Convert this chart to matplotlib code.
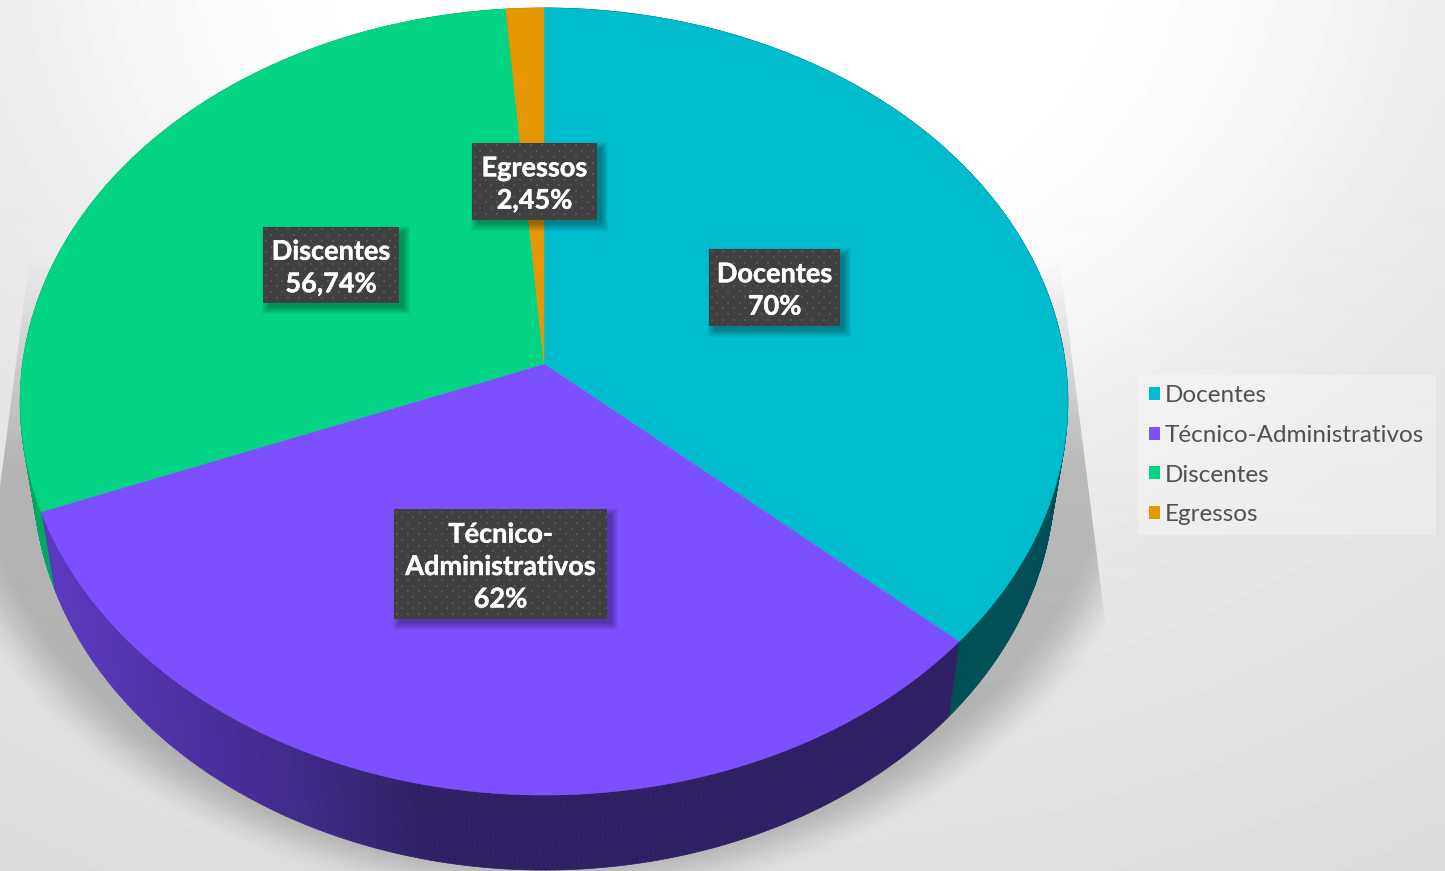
import numpy as np
import matplotlib
matplotlib.use('Agg')
import matplotlib.pyplot as plt
import matplotlib.patheffects as pe
from matplotlib.collections import PolyCollection
from matplotlib.patches import Patch, Rectangle
from matplotlib.colors import to_rgb

# Chart data.
categories = ['Docentes', 'Técnico-Administrativos', 'Discentes', 'Egressos']
values = [70, 62, 56.74, 2.45]
label_texts = ['Docentes\n70%', 'Técnico-\nAdministrativos\n62%', 'Discentes\n56,74%', 'Egressos\n2,45%']

colors = ['#00bccd', '#7d50ff', '#02d484', '#e69600']
wall_colors = ['#004f56', '#2f2064', '#00a860', '#a06800']

# Label boxes in pixels: left, top, right, bottom.
boxes = [(709, 249, 840, 326), (394, 509, 607, 619), (263, 227, 399, 303), (472, 143, 597, 220)]

W, H = 1445, 871

plt.rcParams['font.family'] = ['Lato', 'DejaVu Sans']

fig = plt.figure(figsize=(W / 100, H / 100), dpi=100)
ax = fig.add_axes([0, 0, 1, 1])


# Perspective view of the unit circle, fitted to the top face of the pie.
def top_face(angle):
    u, v = np.sin(angle), np.cos(angle)
    w = 1 + 0.0953 * v
    return 544 + 521.5 * u / w, 364 - 390 * v / w


# The lower rim is the top rim pushed down and slightly in.
def lower_rim(x, y):
    return 544 + 0.975 * (x - 544), y + 75


# Background gradient, white near the top middle.
xx, yy = np.meshgrid(np.arange(W) + 0.5, np.arange(H) + 0.5)
dist = np.sqrt((xx - 722) ** 2 + (1.3 * (yy + 50)) ** 2)
bg = np.interp(dist, [0, 400, 530, 700, 850, 950, 1400], [255, 254, 250, 238, 232, 229, 219])
ax.imshow(bg / 255, cmap='gray', vmin=0, vmax=1, extent=(0, W, H, 0), aspect='auto', zorder=0)

# Soft shadow under the pie, cut off by two slanted lines at the sides.
r = np.sqrt(((xx - 544) / 610) ** 2 + ((yy - 395) / 490) ** 2)
fade = np.clip((1.05 - r) / 0.11, 0, 1)
fade = fade * fade * (3 - 2 * fade)
ramp = np.clip((yy - 260) / 200, 0, 1)
right_cut = np.clip(1062 + (yy - 280) * 43 / 340 - xx + 0.5, 0, 1)
left_cut = np.clip(xx - (27 - (yy - 280) * 27 / 207) + 0.5, 0, 1)
shadow = np.zeros((H, W, 4))
shadow[..., 3] = 0.21 * fade * ramp * right_cut * left_cut
ax.imshow(shadow, extent=(0, W, H, 0), aspect='auto', zorder=1)

# Wedge angles, clockwise from the top.
edges = np.concatenate([[0], np.cumsum(values)]) / np.sum(values) * 2 * np.pi

# Side walls first, the top faces are painted over them.
purple_x = [50, 100, 300, 430]
purple_rgb = np.array([to_rgb(c) for c in ['#5a38c0', '#5535b5', '#3f2a88', '#2f2064']])
for i in range(len(values)):
    ang = np.linspace(edges[i], edges[i + 1], max(int((edges[i + 1] - edges[i]) * 120), 3))
    x1, y1 = top_face(ang)
    x2, y2 = lower_rim(x1, y1)
    quads = [[(x1[k], y1[k]), (x1[k + 1], y1[k + 1]), (x2[k + 1], y2[k + 1]), (x2[k], y2[k])]
             for k in range(len(ang) - 1)]
    if i == 1:
        mid = (x1[:-1] + x1[1:]) / 2
        quad_colors = np.column_stack([np.interp(mid, purple_x, purple_rgb[:, c]) for c in range(3)])
    else:
        quad_colors = [wall_colors[i]] * len(quads)
    ax.add_collection(PolyCollection(quads, facecolors=quad_colors, edgecolors=quad_colors,
                                     linewidths=0.5, zorder=2))

# Top faces.
for i in range(len(values)):
    ang = np.linspace(edges[i], edges[i + 1], max(int((edges[i + 1] - edges[i]) * 120), 3))
    x1, y1 = top_face(ang)
    ax.fill(np.r_[544, x1], np.r_[364, y1], color=colors[i], linewidth=0.3, zorder=3)

# Data labels: dark dotted box with a soft shadow.
for text, (x0, y0, x1, y1) in zip(label_texts, boxes):
    for grow in range(6, -2, -1):
        ax.add_patch(Rectangle((x0 + 5 - grow, y0 + 5 - grow), x1 - x0 + 2 * grow, y1 - y0 + 2 * grow,
                               facecolor='black', edgecolor='none', alpha=0.045, zorder=4))
    ax.add_patch(Rectangle((x0, y0), x1 - x0, y1 - y0, facecolor='#404040', edgecolor='none', zorder=5))
    dots_x, dots_y = [], []
    for row, y in enumerate(np.arange(y0 + 2.5, y1, 5.7)):
        for x in np.arange(x0 + 2.5 + (row % 2) * 5.6, x1, 11.3):
            dots_x.append(x)
            dots_y.append(y)
    ax.scatter(dots_x, dots_y, s=3.2, marker='s', color='#565656', linewidths=0, zorder=6)
    ax.text((x0 + x1) / 2, (y0 + y1) / 2 + 3, text, color='white', fontweight='bold', fontsize=19.5,
            ha='center', va='center', linespacing=1.42, zorder=7,
            path_effects=[pe.withStroke(linewidth=0.3, foreground='white')])

# Legend.
ax.add_patch(Rectangle((1138, 375), 298, 160, facecolor='white', edgecolor='none', alpha=0.3, zorder=4))
handles = [Patch(facecolor=c, edgecolor='none') for c in colors]
leg = ax.legend(handles, categories, loc='upper left', bbox_to_anchor=(1138 / W, 1 - 374 / H),
                frameon=False, fontsize=17.5, labelcolor='#505050', handlelength=0.45, handleheight=0.45,
                handletextpad=0.2, labelspacing=0.775, borderpad=0.45, borderaxespad=0)
leg.set_zorder(8)

ax.set_xlim(0, W)
ax.set_ylim(H, 0)
ax.axis('off')

fig.savefig('out.png', dpi=100)
